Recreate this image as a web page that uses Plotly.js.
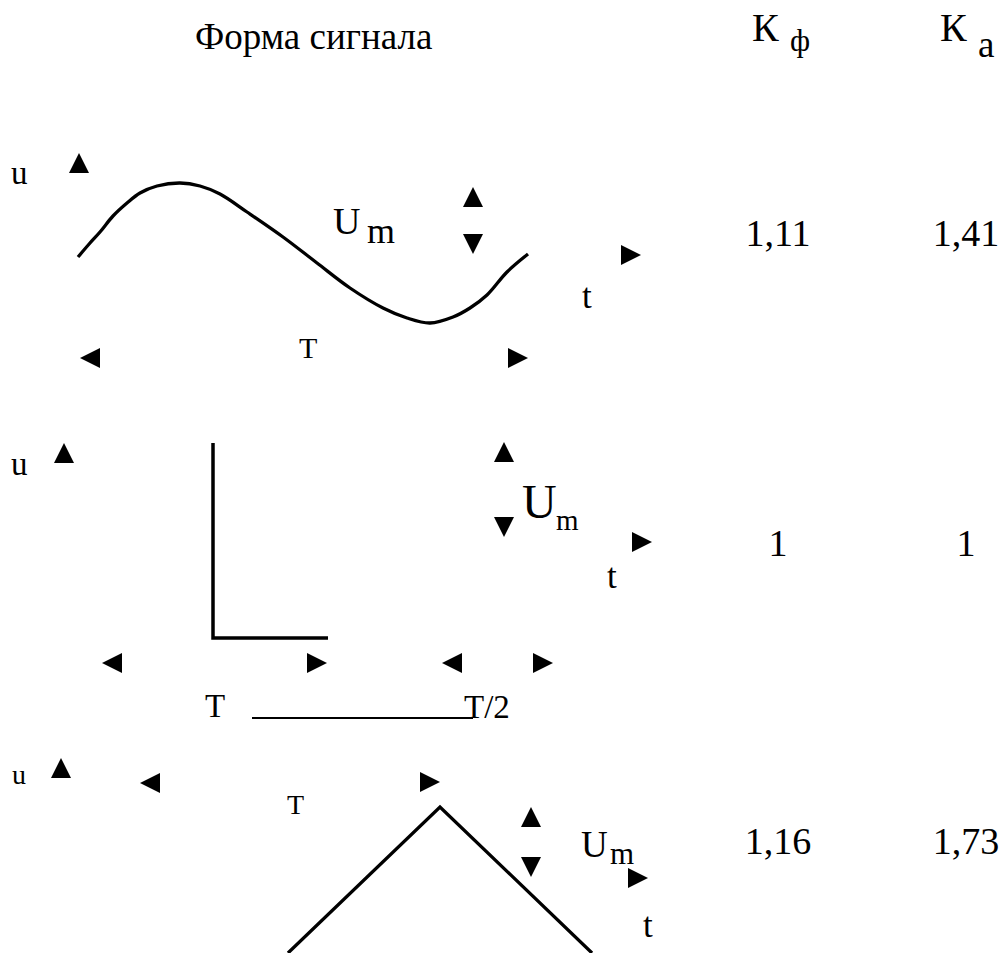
<!DOCTYPE html>
<html><head><meta charset="utf-8">
<script src="https://cdn.plot.ly/plotly-3.0.1.min.js"></script>
<style>html,body{margin:0;padding:0;background:#fff}#chart{width:1001px;height:953px}</style>
</head><body><div id="chart"></div>
<script>
// ---- values ----
const signalForms = ["Синусоидальный", "Прямоугольный", "Треугольный"];
const kfValues = ["1,11", "1", "1,16"];   // К ф
const kaValues = ["1,41", "1", "1,73"];   // К а
const headerTitle = "Форма сигнала";
const headerK = "К";
const headerSubs = ["ф", "а"];

// ---- waveform points ----
const sineX = [78, 90, 100, 113, 127, 140, 157, 180, 200, 220, 247, 283, 317, 350, 383, 407, 430, 453, 470, 487, 507, 528];
const sineY = [257, 243, 232, 216, 203, 193, 186, 183, 186, 194, 212, 237, 263, 288, 308, 318, 323, 317, 308, 295, 272, 254];
const pulseX = [213, 213, 328];
const pulseY = [443, 638, 638];
const triangleX = [288, 440, 592];
const triangleY = [953, 807, 953];
const underlineX = [252, 473];
const underlineY = [718, 718];

// ---- arrow heads (visual centres) ----
const upX = [79, 473, 64, 504, 61, 531];
const upY = [163, 197, 453, 452, 768, 817];
const downX = [473, 504, 531];
const downY = [244, 527, 867];
const rightX = [631, 518, 642, 317, 543, 430, 638];
const rightY = [255, 358, 542, 663, 663, 782, 878];
const leftX = [90, 112, 452, 150];
const leftY = [358, 663, 663, 783];

// ---- table positions ----
const rowY = [236, 546, 844];
const colX = [778, 966];

const FONT = "Liberation Serif";
const A = 20; // arrow head size
const half = A / 2;

function lineTrace(x, y, w, shape) {
  return {x: x, y: y, mode: "lines", type: "scatter", hoverinfo: "skip",
    line: {color: "#000", width: w, shape: shape || "linear", smoothing: 1}, showlegend: false};
}
function arrowTrace(x, y, sym, dx, dy) {
  return {x: x.map(v => v + dx), y: y.map(v => v + dy), mode: "markers", type: "scatter",
    hoverinfo: "skip", showlegend: false,
    marker: {symbol: sym, size: A, color: "#000", line: {width: 0}}};
}

const traces = [
  lineTrace(sineX, sineY, 3.3, "spline"),
  lineTrace(pulseX, pulseY, 3.5),
  lineTrace(triangleX, triangleY, 3.3),
  lineTrace(underlineX, underlineY, 2.2),
  arrowTrace(upX, upY, "arrow-up", 0, -half),
  arrowTrace(downX, downY, "arrow-down", 0, half),
  arrowTrace(rightX, rightY, "arrow-right", half, 0),
  arrowTrace(leftX, leftY, "arrow-left", -half, 0),
  {x: rowY.map(() => colX[0]), y: rowY, text: kfValues, mode: "text", type: "scatter",
   textposition: "middle center", hoverinfo: "skip", showlegend: false,
   textfont: {family: FONT, size: 38, color: "#000"}},
  {x: rowY.map(() => colX[1]), y: rowY, text: kaValues, mode: "text", type: "scatter",
   textposition: "middle center", hoverinfo: "skip", showlegend: false,
   textfont: {family: FONT, size: 38, color: "#000"}}
];

function lab(text, x, y, size) {
  return {text: text, x: x, y: y, xref: "x", yref: "y", showarrow: false,
    xanchor: "center", yanchor: "middle", font: {family: FONT, size: size, color: "#000"}};
}

const annotations = [
  lab(headerTitle, 313, 36, 37),
  lab(headerK, 765, 27, 40), lab(headerSubs[0], 800, 40, 31),
  lab(headerK, 953, 27, 40), lab(headerSubs[1], 986, 44, 37),
  // row 1 : sine
  lab("u", 19, 173, 33), lab("U", 346, 221, 38), lab("m", 381, 231, 36),
  lab("t", 587, 296, 35), lab("T", 308, 347, 30),
  // row 2 : pulse
  lab("u", 19, 464, 33), lab("U", 539, 501, 48), lab("m", 567, 520, 29),
  lab("t", 612, 576, 35), lab("T", 215, 706, 33), lab("T/2", 487, 707, 33),
  // row 3 : triangle
  lab("u", 19, 774, 28), lab("T", 295, 804, 28), lab("U", 594, 844, 37), lab("m", 622, 853, 31),
  lab("t", 648, 925, 35)
];

const layout = {
  width: 1001, height: 953,
  margin: {l: 0, r: 0, t: 0, b: 0, pad: 0},
  paper_bgcolor: "#fff", plot_bgcolor: "#fff",
  xaxis: {range: [0, 1001], visible: false, fixedrange: true},
  yaxis: {range: [953, 0], visible: false, fixedrange: true},
  showlegend: false,
  annotations: annotations
};

Plotly.newPlot("chart", traces, layout, {displayModeBar: false, staticPlot: true});
</script>
</body></html>
